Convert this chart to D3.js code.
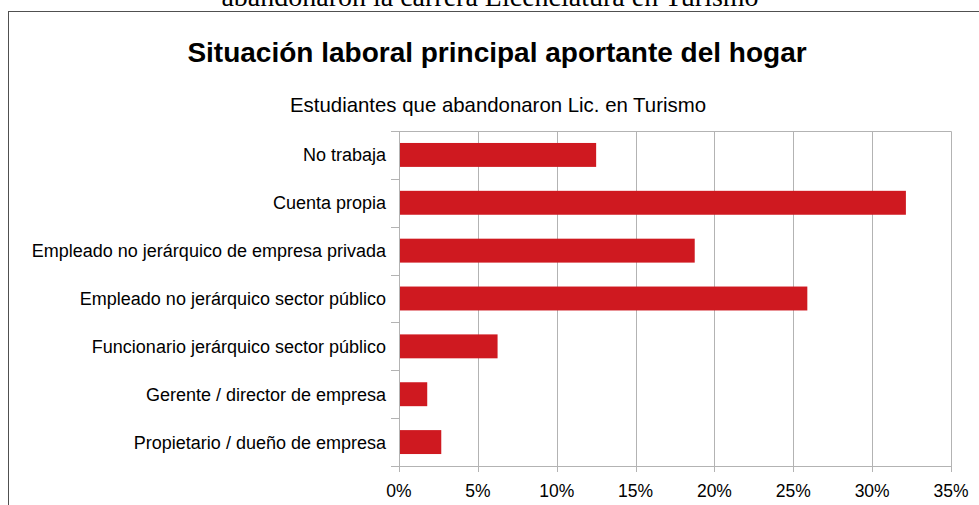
<html>
<head>
<meta charset="utf-8">
<script src="https://cdn.jsdelivr.net/npm/d3@7"></script>
<style>
  body { margin: 0; background: #fff; }
  text { font-family: "Liberation Sans", Arial, sans-serif; fill: #000; }
</style>
</head>
<body>
<script>

// data
var categories = ["No trabaja", "Cuenta propia", "Empleado no jerárquico de empresa privada",
  "Empleado no jerárquico sector público", "Funcionario jerárquico sector público",
  "Gerente / director de empresa", "Propietario / dueño de empresa"];
var percents = [12.5, 32.14, 18.75, 25.89, 6.25, 1.79, 2.68];
var xTicks = [0, 5, 10, 15, 20, 25, 30, 35];

var pageHeading = "abandonaron la carrera Licenciatura en Turismo";
var title = "Situación laboral principal aportante del hogar";
var subtitle = "Estudiantes que abandonaron Lic. en Turismo";

// layout
var W = 979, H = 505;
var plot = { left: 399, right: 951, top: 131, bottom: 466 };
var BAR_COLOR = "#cf1920";
var GRID_COLOR = "#b3b3b3";

var svg = d3.select("body").append("svg")
  .attr("width", W)
  .attr("height", H);

// page text above the chart frame (cut off at top, as in the source page)
svg.append("text")
  .attr("x", 490).attr("y", 6)
  .attr("text-anchor", "middle")
  .style("font-family", "'Liberation Serif', 'Times New Roman', serif")
  .style("font-size", "28px")
  .text(pageHeading);

// chart frame
svg.append("rect")
  .attr("x", 8.5).attr("y", 11.5)
  .attr("width", 1000).attr("height", 600)
  .attr("fill", "none")
  .attr("stroke", "#505050")
  .attr("stroke-width", 1);

svg.append("text")
  .attr("x", 497).attr("y", 62)
  .attr("text-anchor", "middle")
  .style("font-size", "28px")
  .style("font-weight", "bold")
  .text(title);

svg.append("text")
  .attr("x", 498).attr("y", 112)
  .attr("text-anchor", "middle")
  .style("font-size", "20.4px")
  .text(subtitle);

// scales
var x = d3.scaleLinear().domain([0, 35]).range([plot.left, plot.right]);
var y = d3.scaleBand().domain(categories).range([plot.top, plot.bottom])
  .paddingInner(0.5).paddingOuter(0.25);

// vertical gridlines
svg.append("g").selectAll("line")
  .data(xTicks)
  .enter().append("line")
  .attr("x1", function(d) { return Math.round(x(d)) + 0.5; })
  .attr("x2", function(d) { return Math.round(x(d)) + 0.5; })
  .attr("y1", plot.top + 0.5)
  .attr("y2", plot.bottom + 6)
  .attr("stroke", GRID_COLOR);

// top frame line of plot
svg.append("line")
  .attr("x1", plot.left).attr("x2", Math.round(x(35)) + 0.5)
  .attr("y1", plot.top + 0.5).attr("y2", plot.top + 0.5)
  .attr("stroke", GRID_COLOR);

// category ticks at band boundaries
var step = y.step();
var bounds = d3.range(categories.length + 1).map(function(i) { return plot.top + i * step; });
svg.append("g").selectAll("line")
  .data(bounds)
  .enter().append("line")
  .attr("x1", plot.left - 8)
  .attr("x2", plot.left)
  .attr("y1", function(d) { return Math.round(d) + 0.5; })
  .attr("y2", function(d) { return Math.round(d) + 0.5; })
  .attr("stroke", GRID_COLOR);

// bottom axis line
svg.append("line")
  .attr("x1", plot.left - 8).attr("x2", Math.round(x(35)) + 1)
  .attr("y1", plot.bottom + 0.5).attr("y2", plot.bottom + 0.5)
  .attr("stroke", GRID_COLOR);

// bars
svg.append("g").selectAll("rect")
  .data(categories)
  .enter().append("rect")
  .attr("x", x(0) + 1)
  .attr("y", function(d) { return y(d); })
  .attr("width", function(d, i) { return x(percents[i]) - x(0) - 1; })
  .attr("height", y.bandwidth())
  .attr("fill", BAR_COLOR);

// category labels
svg.append("g").selectAll("text")
  .data(categories)
  .enter().append("text")
  .attr("x", 386)
  .attr("y", function(d) { return y(d) + y.bandwidth() / 2 + 6.5; })
  .attr("text-anchor", "end")
  .style("font-size", "18px")
  .text(function(d) { return d; });

// x tick labels
svg.append("g").selectAll("text")
  .data(xTicks)
  .enter().append("text")
  .attr("x", function(d) { return x(d); })
  .attr("y", 497)
  .attr("text-anchor", "middle")
  .style("font-size", "17.5px")
  .text(function(d) { return d + "%"; });

</script>
</body>
</html>
